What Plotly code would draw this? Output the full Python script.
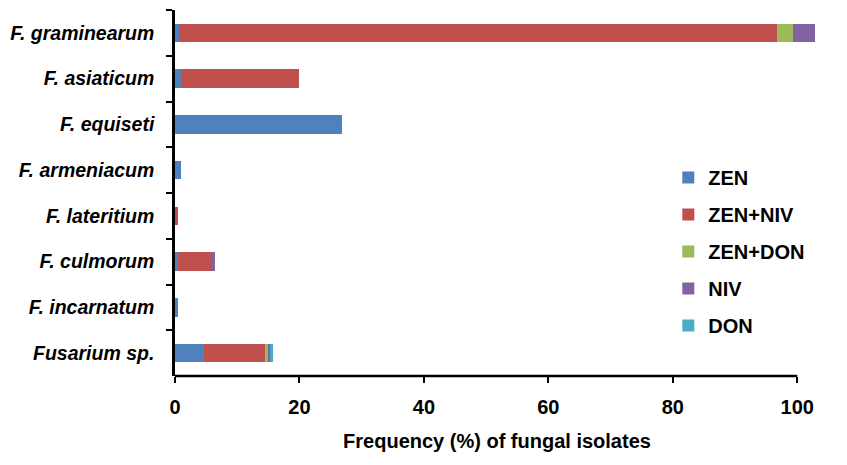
import plotly.graph_objects as go

species = [
    "F. graminearum",
    "F. asiaticum",
    "F. equiseti",
    "F. armeniacum",
    "F. lateritium",
    "F. culmorum",
    "F. incarnatum",
    "Fusarium sp.",
]

zen = [0.6, 1.0, 26.8, 0.9, 0.0, 0.5, 0.5, 4.7]
zen_niv = [96.2, 18.9, 0.0, 0.0, 0.5, 5.4, 0.0, 9.9]
zen_don = [2.6, 0.0, 0.0, 0.0, 0.0, 0.0, 0.0, 0.3]
niv = [3.5, 0.0, 0.0, 0.0, 0.0, 0.5, 0.0, 0.5]
don = [0.0, 0.0, 0.0, 0.0, 0.0, 0.0, 0.0, 0.3]

x_ticks = [0, 20, 40, 60, 80, 100]

SERIES = [
    ("ZEN", zen, "#4F81BD"),
    ("ZEN+NIV", zen_niv, "#C0504D"),
    ("ZEN+DON", zen_don, "#9BBB59"),
    ("NIV", niv, "#8064A2"),
    ("DON", don, "#4BACC6"),
]

FONT = "Liberation Sans, Arial, sans-serif"

fig = go.Figure()

for name, values, color in SERIES:
    fig.add_trace(
        go.Bar(
            y=species,
            x=values,
            name=name,
            orientation="h",
            marker=dict(color=color, line=dict(width=0)),
            legendgroup=name,
        )
    )

# page body adds an 8px offset, so the figure is sized 8px smaller
fig.update_layout(
    barmode="stack",
    bargap=0.6,
    width=839,
    height=457,
    margin=dict(l=162, r=28, t=2, b=89),
    paper_bgcolor="white",
    plot_bgcolor="white",
    font=dict(family=FONT, color="black"),
    legend=dict(
        x=0.766,
        y=0.34,
        xanchor="left",
        yanchor="middle",
        traceorder="grouped",
        tracegroupgap=8,
        itemwidth=30,
        font=dict(size=20, weight="bold", family=FONT),
        bgcolor="rgba(0,0,0,0)",
    ),
)

fig.update_xaxes(
    range=[0, 103.5],
    tickvals=x_ticks,
    ticks="outside",
    ticklen=6,
    tickwidth=2,
    tickcolor="black",
    showline=False,
    showgrid=False,
    zeroline=False,
    tickfont=dict(size=20, weight="bold", family=FONT),
    ticklabelstandoff=7,
    title=dict(
        text="Frequency (%) of fungal isolates",
        font=dict(size=20, weight="bold", family=FONT),
        standoff=16,
    ),
)

fig.update_yaxes(
    autorange="reversed",
    tickson="boundaries",
    ticks="outside",
    ticklen=6,
    tickwidth=2,
    tickcolor="black",
    showline=True,
    linecolor="black",
    linewidth=2.5,
    showgrid=False,
    zeroline=False,
    tickfont=dict(size=19.5, weight="bold", style="italic", family=FONT),
    ticklabelstandoff=14,
)

# x axis line stops at 100 while the top bar runs past it
fig.add_shape(
    type="line",
    xref="x",
    yref="paper",
    x0=0,
    x1=100,
    y0=0,
    y1=0,
    line=dict(color="black", width=2.5),
)

fig.write_html("out.html")
